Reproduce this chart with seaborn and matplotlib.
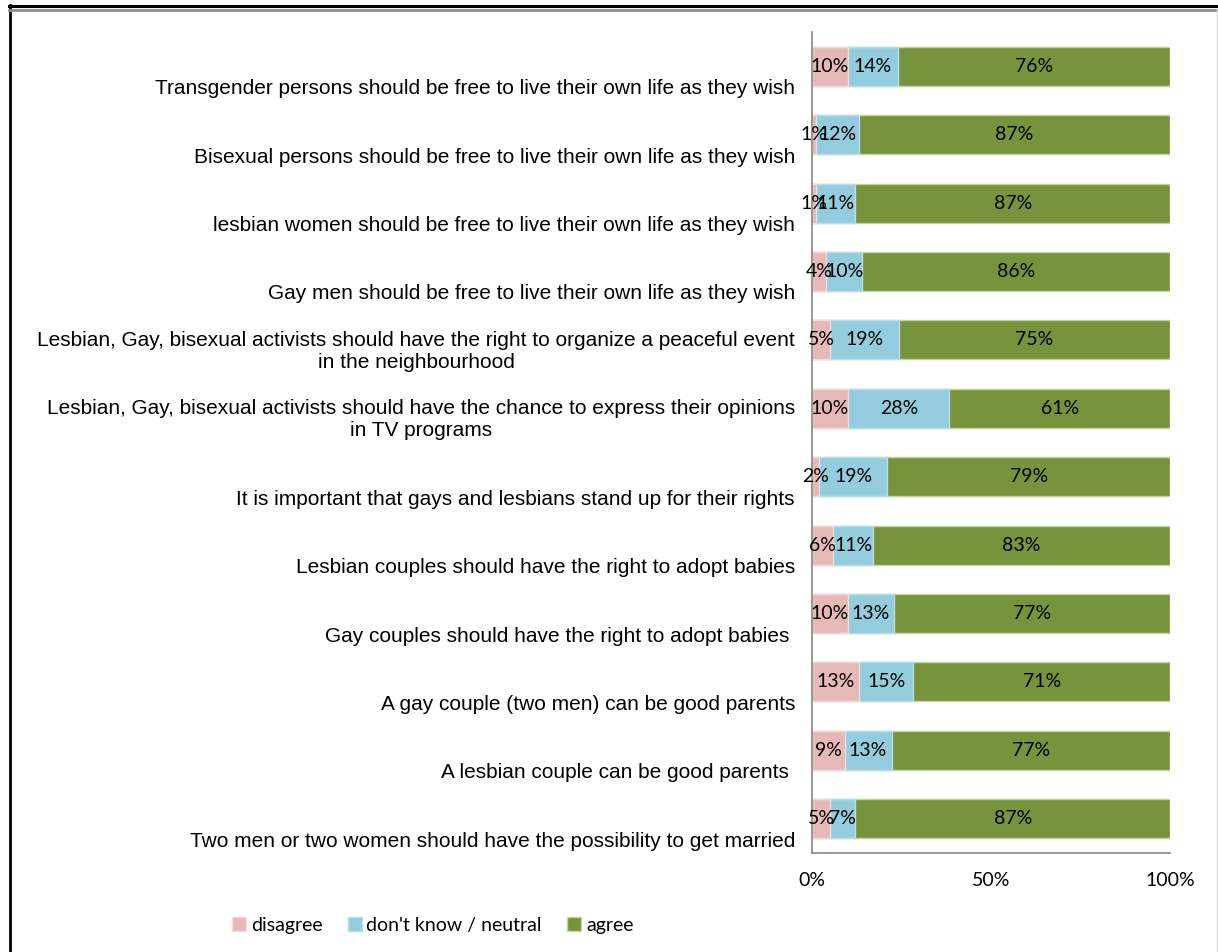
import numpy as np
import pandas as pd
import seaborn as sns
import matplotlib.pyplot as plt
from matplotlib.lines import Line2D
from matplotlib.patches import Patch

statements = [
    'Transgender persons should be free to live their own life as they wish',
    'Bisexual persons should be free to live their own life as they wish',
    'lesbian women should be free to live their own life as they wish',
    'Gay men should be free to live their own life as they wish',
    'Lesbian, Gay, bisexual activists should have the right to organize a peaceful event\nin the neighbourhood',
    'Lesbian, Gay, bisexual activists should have the chance to express their opinions\nin TV programs',
    'It is important that gays and lesbians stand up for their rights',
    'Lesbian couples should have the right to adopt babies',
    'Gay couples should have the right to adopt babies ',
    'A gay couple (two men) can be good parents',
    'A lesbian couple can be good parents ',
    'Two men or two women should have the possibility to get married',
]
disagree = [10, 1, 1, 4, 5, 10, 2, 6, 10, 13, 9, 5]
neutral = [14, 12, 11, 10, 19, 28, 19, 11, 13, 15, 13, 7]
agree = [76, 87, 87, 86, 75, 61, 79, 83, 77, 71, 77, 87]

series = ['disagree', "don't know / neutral", 'agree']
colors = ['#E6B9B8', '#93CDDD', '#77933C']
edges = ['#F2DCDB', '#B7DEE8', '#C3D69B']

df = pd.DataFrame({'statement': statements, 'disagree': disagree,
                   'neutral': neutral, 'agree': agree})
total = df[['disagree', 'neutral', 'agree']].sum(axis=1)
# Excel 100% stacked: normalise each row
df['c1'] = df['disagree'] / total * 100
df['c2'] = (df['disagree'] + df['neutral']) / total * 100
df['c3'] = 100.0

fig = plt.figure(figsize=(12.18, 9.52), dpi=100)
ax = fig.add_axes([812 / 1218, 1 - 853 / 952, 358 / 1218, (853 - 32) / 952])

# draw cumulative bars back to front so they look stacked
for col, c, e in zip(['c3', 'c2', 'c1'], colors[::-1], edges[::-1]):
    sns.barplot(data=df, y='statement', x=col, orient='h', color=c, width=0.57,
                edgecolor=e, linewidth=1.0, saturation=1, ax=ax)

ax.set_xlim(0, 100)
ax.set_ylim(len(df) - 0.5, -0.5)
ax.set_xlabel('')
ax.set_ylabel('')
ax.set_xticks([0, 50, 100])
ax.set_xticklabels(['0%', '50%', '100%'], fontfamily='Lato', fontsize=14)
ax.tick_params(axis='x', length=0, pad=14)
ax.tick_params(axis='y', length=0)
ax.set_yticklabels([])
for s in ['top', 'right']:
    ax.spines[s].set_visible(False)
for s in ['left', 'bottom']:
    ax.spines[s].set_color('#868686')
    ax.spines[s].set_linewidth(1.2)

# statement labels, sitting low in each band like the original
for i, lab in enumerate(df['statement']):
    ax.annotate(lab, xy=(0, i), xycoords=('axes fraction', 'data'),
                xytext=(-17, -32), textcoords='offset pixels',
                ha='right', va='bottom', multialignment='center',
                fontfamily='Liberation Sans', fontsize=15, color='black')

# segment value labels
for i, row in df.iterrows():
    starts = [0, row['c1'], row['c2']]
    ends = [row['c1'], row['c2'], 100]
    vals = [row['disagree'], row['neutral'], row['agree']]
    for s0, s1, v in zip(starts, ends, vals):
        ax.text((s0 + s1) / 2, i, f'{v}%', ha='center', va='center',
                fontfamily='Lato', fontsize=14, color='black')

handles = [Patch(facecolor=c, edgecolor=e) for c, e in zip(colors, edges)]
fig.legend(handles, series, loc='center left', bbox_to_anchor=(224 / 1218, 1 - 925 / 952),
           ncol=3, frameon=False, handlelength=0.72, handleheight=0.72,
           handletextpad=0.25, columnspacing=1.3, borderaxespad=0,
           prop={'family': 'Lato', 'size': 14})

# outer frame
fig.add_artist(Line2D([9.5 / 1218, 9.5 / 1218], [0, 1 - 5 / 952], color='black', lw=2))
fig.add_artist(Line2D([9 / 1218, 1], [1 - 5.5 / 952, 1 - 5.5 / 952], color='black', lw=2.2))
fig.add_artist(Line2D([9 / 1218, 1], [1 - 9.5 / 952, 1 - 9.5 / 952], color='#8c8c8c', lw=2))
fig.add_artist(Line2D([1216.5 / 1218, 1216.5 / 1218], [0, 1 - 9 / 952], color='#d9d9d9', lw=1))

fig.savefig('out.png', dpi=100)
